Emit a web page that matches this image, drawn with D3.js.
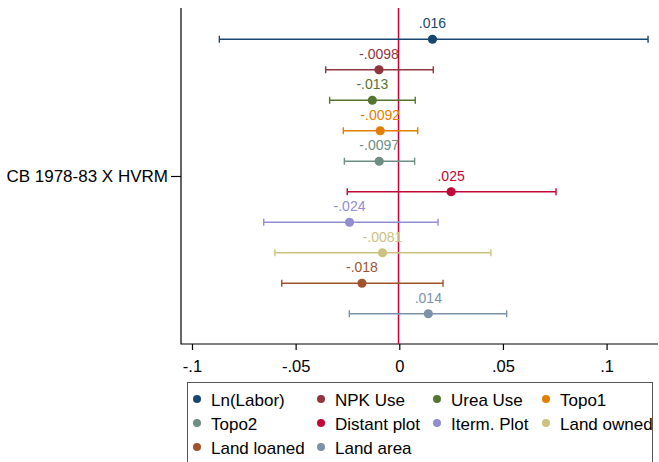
<!DOCTYPE html>
<html>
<head>
<meta charset="utf-8">
<script src="https://cdn.jsdelivr.net/npm/d3@7"></script>
<style>
  body { margin: 0; background: #fff; }
  text { font-family: Arial, "Liberation Sans", sans-serif; }
</style>
</head>
<body>
<svg id="chart" width="659" height="462"></svg>
<script>
// coefficient plot data
var names = ["Ln(Labor)", "NPK Use", "Urea Use", "Topo1", "Topo2",
             "Distant plot", "Iterm. Plot", "Land owned", "Land loaned", "Land area"];
var coefs = [0.016, -0.0098, -0.013, -0.0092, -0.0097, 0.025, -0.024, -0.0081, -0.018, 0.014];
var lower = [-0.0868, -0.0355, -0.0336, -0.027, -0.0265, -0.0251, -0.0654, -0.060, -0.0567, -0.0241];
var upper = [0.120, 0.0164, 0.0077, 0.0089, 0.0074, 0.0756, 0.0187, 0.0442, 0.0211, 0.0518];
var colors = ["#1a476f", "#90353b", "#55752f", "#e37e00", "#6e8e84",
              "#c10534", "#938dd2", "#cac27e", "#a0522d", "#7b92a8"];
var xTicks = [-0.1, -0.05, 0, 0.05, 0.1];
var xTickLabels = ["-.1", "-.05", "0", ".05", ".1"];
var groupLabel = "CB 1978-83 X HVRM";

var svg = d3.select("#chart");
var plot = { left: 181, right: 658, top: 8, bottom: 344 };
var font = "Arial, 'Liberation Sans', sans-serif";

var x = d3.scaleLinear()
    .domain([-0.1053, 0.1248])
    .range([plot.left, plot.right]);

var y = d3.scaleBand()
    .domain(d3.range(names.length))
    .range([24, 329]);

// x axis
var xAxis = d3.axisBottom(x)
    .tickValues(xTicks)
    .tickFormat(function (d, i) { return xTickLabels[i]; })
    .tickSizeOuter(0)
    .tickSize(6)
    .tickPadding(10);

var gx = svg.append("g")
    .attr("transform", "translate(0," + plot.bottom + ")")
    .call(xAxis);
gx.select(".domain").remove();
gx.selectAll(".tick line").attr("stroke", "#000").attr("stroke-width", 1.2);
gx.selectAll(".tick text").attr("font-size", 16.5).attr("fill", "#000").attr("font-family", font);

// y axis, one group tick
var yGroup = d3.scalePoint().domain([groupLabel]).range([plot.top, plot.bottom]).padding(0.5);
var gy = svg.append("g")
    .attr("transform", "translate(" + plot.left + ",0)")
    .call(d3.axisLeft(yGroup).tickSizeOuter(0).tickSize(10).tickPadding(3));
gy.select(".domain").remove();
gy.selectAll(".tick line").attr("stroke", "#000").attr("stroke-width", 1.2);
gy.selectAll(".tick text").attr("font-size", 17).attr("fill", "#000").attr("font-family", font);

// axis lines
svg.append("path")
    .attr("d", "M" + plot.left + "," + plot.top + "V" + plot.bottom + "H" + plot.right)
    .attr("fill", "none").attr("stroke", "#000").attr("stroke-width", 1.2);

// zero reference line
svg.append("line")
    .attr("x1", Math.round(x(0)) - 0.5).attr("x2", Math.round(x(0)) - 0.5)
    .attr("y1", plot.top).attr("y2", plot.bottom)
    .attr("stroke", "#c8003a").attr("stroke-width", 1.5);

// error bars, markers and labels
var rows = svg.append("g").selectAll("g")
    .data(names)
    .join("g")
    .attr("transform", function (d, i) { return "translate(0," + (y(i) + y.bandwidth() / 2) + ")"; });

rows.append("line")
    .attr("x1", function (d, i) { return x(lower[i]); })
    .attr("x2", function (d, i) { return x(upper[i]); })
    .attr("stroke", function (d, i) { return colors[i]; })
    .attr("stroke-width", 1.4);

rows.selectAll(".cap")
    .data(function (d, i) { return [[lower[i], i], [upper[i], i]]; })
    .join("line")
    .attr("class", "cap")
    .attr("x1", function (d) { return x(d[0]); })
    .attr("x2", function (d) { return x(d[0]); })
    .attr("y1", -3.5).attr("y2", 3.5)
    .attr("stroke", function (d) { return colors[d[1]]; })
    .attr("stroke-width", 1.4);

rows.append("circle")
    .attr("cx", function (d, i) { return x(coefs[i]); })
    .attr("r", 4.6)
    .attr("fill", function (d, i) { return colors[i]; });

rows.append("text")
    .attr("x", function (d, i) { return x(coefs[i]); })
    .attr("y", -11)
    .attr("text-anchor", "middle")
    .attr("font-size", 14)
    .attr("fill", function (d, i) { return colors[i]; })
    .text(function (d, i) { return String(coefs[i]).replace("0.", "."); });

// legend
svg.append("rect")
    .attr("x", 187.5).attr("y", 382.5)
    .attr("width", 465).attr("height", 90)
    .attr("fill", "#fff").attr("stroke", "#555").attr("stroke-width", 1);

var colX = [211, 335, 451, 560];
var rowY = [400, 424, 448];
var items = svg.append("g").selectAll("g")
    .data(names)
    .join("g")
    .attr("transform", function (d, i) {
        return "translate(" + colX[i % 4] + "," + rowY[Math.floor(i / 4)] + ")";
    });
items.append("circle").attr("cx", -14).attr("cy", -1).attr("r", 4).attr("fill", function (d, i) { return colors[i]; });
items.append("text")
    .attr("dy", "0.35em")
    .attr("font-size", 17).attr("fill", "#000")
    .text(function (d) { return d; });
</script>
</body>
</html>
